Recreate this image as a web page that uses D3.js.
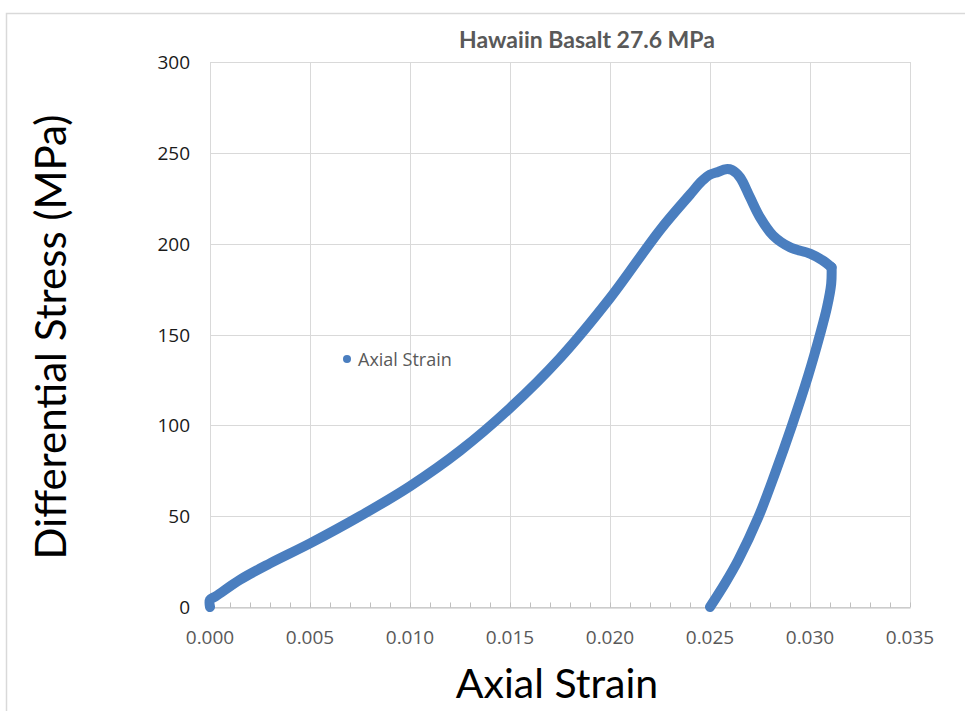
<!DOCTYPE html>
<html><head><meta charset="utf-8">
<script src="https://cdn.jsdelivr.net/npm/d3@7"></script>
<style>body{margin:0;background:#fff;} svg{display:block;}</style>
</head><body>
<script>
// ---- data ----
const chartTitle = "Hawaiin Basalt 27.6 MPa";
const xTitle = "Axial Strain";
const yTitle = "Differential Stress (MPa)";
const seriesName = "Axial Strain";
const xTicks = [0, 0.005, 0.010, 0.015, 0.020, 0.025, 0.030, 0.035];
const yTicks = [0, 50, 100, 150, 200, 250, 300];
const loadStrain = [0, 0, 0.0003, 0.0015, 0.003, 0.005, 0.0075, 0.010, 0.0125, 0.015, 0.0175, 0.020, 0.0225, 0.024, 0.0246, 0.0250, 0.0254, 0.0258, 0.0261, 0.0265, 0.0270, 0.0275, 0.02815, 0.0290, 0.0300, 0.0306, 0.03108];
const loadStress = [0, 4, 6, 15, 24, 35, 50, 66.5, 86, 109.5, 137, 170, 207.5, 227, 234.5, 238, 239.5, 241, 240.5, 236.5, 225.5, 214.5, 204.5, 198, 194.5, 191, 187];
const unloadStrain = [0.03108, 0.03106, 0.03085, 0.03050, 0.02990, 0.02910, 0.02825, 0.02742, 0.02642, 0.02575, 0.0250];
const unloadStress = [187, 178, 165, 150, 127, 100, 73.5, 49.5, 26, 13, 0];

const W = 965, H = 711;
const m = {left: 210, right: 55, top: 62, bottom: 104};
const svg = d3.select("body").append("svg").attr("width", W).attr("height", H);
const font = "Lato, 'Open Sans', sans-serif";
const tickFont = "'Open Sans', sans-serif";

// frame
svg.append("path").attr("d", `M6.5,${H+5} L6.5,13.5 L${W+5},13.5`)
  .attr("fill", "none").attr("stroke", "#d9d9d9").attr("stroke-width", 1.5);

const x = d3.scaleLinear().domain([0, 0.035]).range([m.left, W - m.right]);
const y = d3.scaleLinear().domain([0, 300]).range([H - m.bottom, m.top]);

// gridlines
svg.append("g").selectAll("line").data(xTicks).join("line")
  .attr("x1", d => Math.round(x(d)) + 0.5).attr("x2", d => Math.round(x(d)) + 0.5)
  .attr("y1", y(300)).attr("y2", y(0)).attr("stroke", "#d9d9d9").attr("stroke-width", 1);
svg.append("g").selectAll("line").data(yTicks).join("line")
  .attr("x1", x(0)).attr("x2", x(0.035))
  .attr("y1", d => Math.round(y(d)) + 0.5).attr("y2", d => Math.round(y(d)) + 0.5)
  .attr("stroke", "#d9d9d9").attr("stroke-width", 1);

// x axis with inside minor ticks
const minor = d3.range(0, 36).map(i => i * 0.001);
const xAxis = d3.axisBottom(x).tickValues(minor).tickSizeInner(-5).tickSizeOuter(0).tickFormat("");
const gx = svg.append("g").attr("transform", `translate(0,${Math.round(y(0)) + 0.5})`).call(xAxis);
gx.select(".domain").attr("stroke", "#bfbfbf");
gx.selectAll(".tick line").attr("stroke", "#bfbfbf");
gx.selectAll(".tick").attr("transform", d => `translate(${Math.round(x(d)) + 0.5},0)`);
svg.append("g").selectAll("text").data(xTicks).join("text")
  .attr("x", d => x(d)).attr("y", y(0) + 37).attr("text-anchor", "middle")
  .attr("font-family", tickFont).attr("font-size", 19).attr("fill", "#595959")
  .text(d => d3.format(".3f")(d));

// y tick labels
svg.append("g").selectAll("text").data(yTicks).join("text")
  .attr("x", m.left - 20).attr("y", d => y(d) + 7).attr("text-anchor", "end")
  .attr("font-family", tickFont).attr("font-size", 19).attr("fill", "#1a1a1a")
  .text(d => d);

// series
const line = d3.line().x(d => x(d[0])).y(d => y(d[1])).curve(d3.curveCatmullRom.alpha(0.5));
const loadPts = loadStrain.map((s, i) => [s, loadStress[i]]);
const unloadPts = unloadStrain.map((s, i) => [s, unloadStress[i]]);
[loadPts, unloadPts].forEach(p => {
  svg.append("path").attr("d", line(p)).attr("fill", "none")
    .attr("stroke", "#4a7ebf").attr("stroke-width", 10)
    .attr("stroke-linecap", "round").attr("stroke-linejoin", "round");
});

// title
svg.append("text").attr("x", 587).attr("y", 48).attr("text-anchor", "middle")
  .attr("font-family", font).attr("font-weight", "bold").attr("font-size", 23)
  .attr("fill", "#595959").text(chartTitle);

// axis titles
svg.append("text").attr("x", 557).attr("y", 698).attr("text-anchor", "middle")
  .attr("font-family", font).attr("font-size", 41).attr("fill", "#000").text(xTitle);
svg.append("text").attr("transform", "translate(66,337) rotate(-90)").attr("text-anchor", "middle")
  .attr("font-family", font).attr("font-size", 42).attr("fill", "#000").text(yTitle);

// legend
svg.append("circle").attr("cx", 347).attr("cy", 359).attr("r", 4).attr("fill", "#4a7ebf");
svg.append("text").attr("x", 358).attr("y", 366).attr("font-family", tickFont)
  .attr("font-size", 18).attr("fill", "#595959").text(seriesName);
</script>
</body></html>
